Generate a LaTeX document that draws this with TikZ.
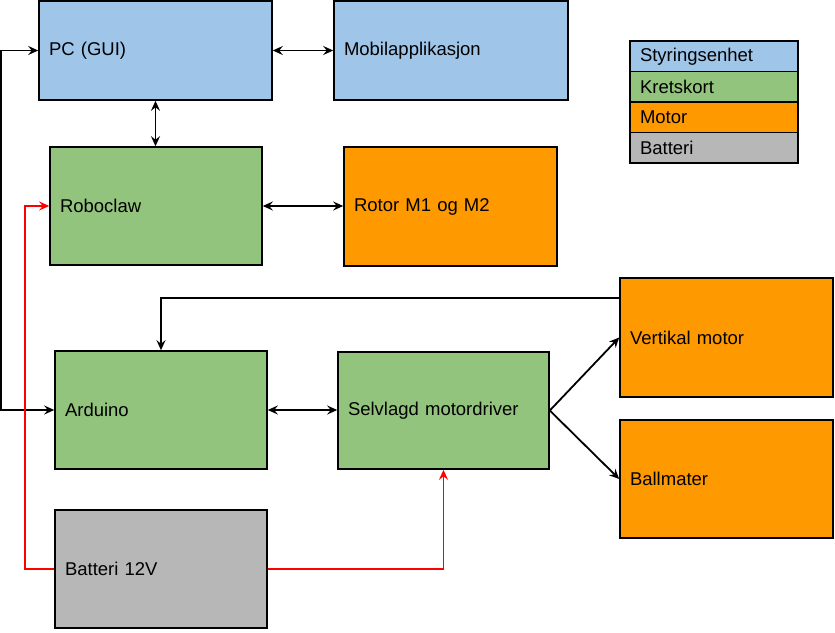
\documentclass[tikz,border=0pt]{standalone}
\usepackage{fontspec}
\setmainfont{Liberation Sans}
\usepackage{tikz}
\usetikzlibrary{arrows.meta}

\definecolor{styring}{HTML}{9FC5E8}
\definecolor{krets}{HTML}{93C47D}
\definecolor{motor}{HTML}{FF9900}
\definecolor{batteri}{HTML}{B7B7B7}

\begin{document}
\begin{tikzpicture}[x=1pt,y=-1pt]
			\tikzset{block/.style 2 args={shape = rectangle, draw, line width = 1.6pt,
					minimum width = #1pt, minimum height = #2pt, text width = #1pt-20pt,
					inner xsep = 10pt, align = left, font = \fontsize{18.5}{21}\selectfont}}
			\tikzset{edge/.style={->, > = {Stealth[length = 10pt, width = 9pt, inset = 3.5pt]}, line width = 1.8pt}}
			\tikzset{power/.style={edge, red}}
			\useasboundingbox (0,0) rectangle (835,632);
			%vertices
			\node[block={233}{99}, fill = styring] (pc) at (155.5, 50.5) {PC (GUI)};
			\node[block={234}{99}, fill = styring] (mob) at (451, 50.5) {Mobilapplikasjon};
			\node[block={212}{118}, fill = krets] (rob) at (156, 206) {Roboclaw};
			\node[block={213}{119}, fill = motor] (rot) at (450.5, 206.5) {Rotor M1 og M2};
			\node[block={212}{118}, fill = krets] (ard) at (161, 410) {Arduino};
			\node[block={211}{117}, fill = krets] (mdr) at (443.5, 410.5) {Selvlagd motordriver};
			\node[block={213}{119}, fill = motor] (vert) at (726.5, 337.5) {Vertikal motor};
			\node[block={213}{118}, fill = motor] (ball) at (726.5, 479) {Ballmater};
			\node[block={212}{118}, fill = batteri] (bat) at (161, 569) {Batteri 12V};
			%legend
			\node[block={168}{30.5}, fill = styring] (leg1) at (714, 56.25) {Styringsenhet};
			\node[block={168}{30.5}, fill = krets] (leg2) at (714, 86.75) {Kretskort};
			\node[block={168}{30.5}, fill = motor] (leg3) at (714, 117.25) {Motor};
			\node[block={168}{30.5}, fill = batteri] (leg4) at (714, 147.75) {Batteri};
			%edges
			\coordinate (lft) at (0.8, 230);
			\coordinate (rbus) at (25, 400);
			\draw[edge, <->] (pc) -- (mob);
			\draw[edge, <->] (pc.south) -- (pc.south |- rob.north);
			\draw[edge, <->] (rob.east) -- (rob.east -| rot.west);
			\draw[edge, <->] (ard.east) -- (ard.east -| mdr.west);
			\draw[edge] (mdr.east) -- (vert.west);
			\draw[edge] (mdr.east) -- (ball.west);
			\draw[edge] ([yshift=-21pt]vert.north west) -| (ard.north);
			\draw[edge, <->] (pc.west) -| (lft) |- (ard.west);
			\draw[power] (bat.west) -| (rbus) |- (rob.west);
			\draw[power] (bat.east) -| (mdr.south);
\end{tikzpicture}
\end{document}
